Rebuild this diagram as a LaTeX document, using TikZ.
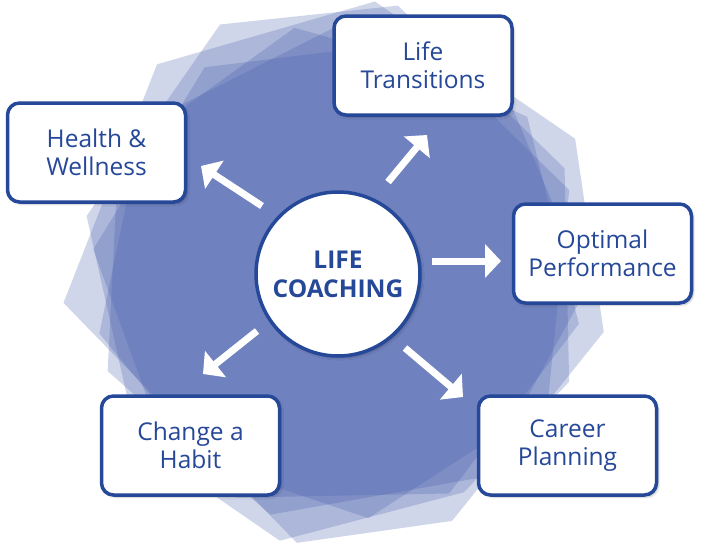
\documentclass[tikz,border=0pt]{standalone}
\usepackage{fontspec}
\setmainfont{Open Sans}
\usepackage{tikz}
\usetikzlibrary{arrows.meta, calc, shadows.blur}
\definecolor{navyline}{RGB}{38,72,152}
\definecolor{shardblue}{RGB}{67,91,171}

\begin{document}
\begin{tikzpicture}[
      x=1pt, y=1pt,
      topicbox/.style = {
        rectangle, rounded corners=12pt,
        draw=navyline, line width=3.5pt, fill=white,
        minimum width=178pt, minimum height=99pt,
        font=\fontsize{24.5}{28}\selectfont, align=center, text=navyline,
        blur shadow={shadow blur steps=5, shadow xshift=2pt, shadow yshift=-2pt, shadow opacity=25}
      },
      corebox/.style = {
        circle, draw=navyline, line width=3.5pt, fill=white,
        minimum size=164pt, inner sep=0pt,
        font=\fontsize{24.5}{29}\selectfont\bfseries, align=center, text=navyline,
        blur shadow={shadow blur steps=5, shadow xshift=2pt, shadow yshift=-2pt, shadow opacity=25}
      },
      arr/.style   = {-{Triangle[length=16pt,width=33pt]}, line width=7pt, draw=white},
      shard/.style = {fill=shardblue, fill opacity=0.25}
    ]

      \useasboundingbox (0,0) rectangle (705,-544);

      % ===================== Background shards =====================
      \coordinate (mid) at (338,-274);
      % outer, irregular ones (angle/radius)
      \fill[shard] ($(mid)+(186:276)$) -- ($(mid)+(130.8:277)$) -- ($(mid)+(82.3:275)$)
        -- ($(mid)+(29.7:273)$) -- ($(mid)+(-12.3:272)$) -- ($(mid)+(-65.2:272)$)
        -- ($(mid)+(-98.7:272)$) -- cycle;
      \fill[shard] ($(mid)+(167:258)$) -- ($(mid)+(115.3:276)$) -- ($(mid)+(77.4:275)$)
        -- ($(mid)+(25:250)$) -- ($(mid)+(-25:255)$) -- ($(mid)+(-60:252)$)
        -- ($(mid)+(-102.3:273)$) -- ($(mid)+(-140:262)$) -- cycle;
      % inner, regular ones
      \foreach \rot/\rad in {100/250, 122.8/246, 194/246}
        \fill[shard] ($(mid)+(\rot:\rad)$)
          \foreach \k in {1,...,6} { -- ($(mid)+({\rot+\k*360/7}:\rad)$) } -- cycle;

      % ===================== Centre =====================
      \node[corebox] (core) at (mid) {LIFE\\COACHING};

      % ===================== Topics =====================
      \node[topicbox] (trans)  at (423,-65.5)  {Life\\Transitions};
      \node[topicbox] (health) at (96.5,-152.5) {Health \&\\Wellness};
      \node[topicbox] (perf)   at (602.5,-253.5) {Optimal\\Performance};
      \node[topicbox] (habit)  at (190.5,-445.5) {Change a\\Habit};
      \node[topicbox] (career) at (567.5,-445.5) {Career\\Planning};

      % ===================== Arrows =====================
      \coordinate (healthA) at (262,-206);  \coordinate (healthB) at (201,-166);
      \coordinate (transA)  at (388,-182);  \coordinate (transB)  at (427,-135);
      \coordinate (perfA)   at (432,-261);  \coordinate (perfB)   at (501,-261);
      \coordinate (habitA)  at (257,-331);  \coordinate (habitB)  at (203,-374);
      \coordinate (careerA) at (405,-348);  \coordinate (careerB) at (463,-397);

      \draw[arr] (healthA) -- (healthB);
      \draw[arr] (transA)  -- (transB);
      \draw[arr] (perfA)   -- (perfB);
      \draw[arr] (habitA)  -- (habitB);
      \draw[arr] (careerA) -- (careerB);

    \end{tikzpicture}
\end{document}
